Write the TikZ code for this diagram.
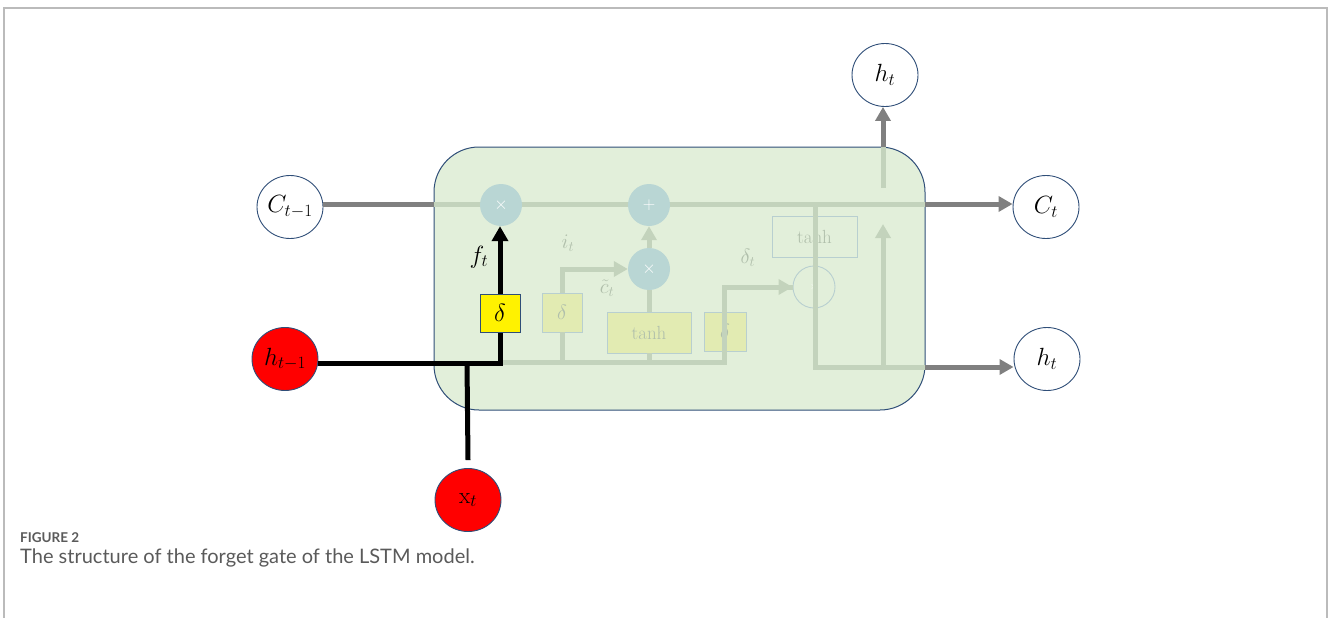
\documentclass[tikz,border=0pt]{standalone}
\usepackage{amsmath,amssymb}
\usepackage{fontspec}
\usetikzlibrary{arrows.meta,shapes.geometric}
\newfontfamily\capfont{Lato}
\definecolor{framegrey}{HTML}{BBBBBB}
\definecolor{boxgreen}{HTML}{E2EFDA}
\definecolor{bordblue}{HTML}{2F4E78}
\definecolor{darkline}{HTML}{808080}
\definecolor{faintline}{HTML}{C3D3BC}
\definecolor{opteal}{HTML}{B9D6D4}
\definecolor{fyellow}{HTML}{E2EBB2}
\definecolor{fbord}{HTML}{B8CFD0}
\definecolor{ftext}{HTML}{B0BFAB}
\definecolor{captext}{HTML}{5A5A5A}
\tikzset{
  circ/.style={ellipse, draw=bordblue, line width=0.9pt, fill=white, minimum width=66pt, minimum height=63pt, inner sep=0pt, font=\fontsize{23}{23}\selectfont},
  redc/.style={circ, fill=red},
  opc/.style={circle, fill=opteal, minimum size=42pt, inner sep=0pt, text=white, font=\fontsize{16}{16}\selectfont},
  fbx/.style={rectangle, draw=fbord, fill=fyellow, line width=0.9pt, inner sep=0pt, text=ftext},
  fl/.style={draw=faintline, line width=5pt},
  fla/.style={fl, -{Triangle[length=14pt,width=15pt]}},
  dl/.style={draw=darkline, line width=5pt, -{Triangle[length=14pt,width=15pt]}},
  bl/.style={draw=black, line width=5pt},
  ftxt/.style={text=ftext, font=\fontsize{22}{22}\selectfont},
}
\begin{document}
\begin{tikzpicture}[x=1pt,y=-1pt]
\useasboundingbox (0,0) rectangle (1328,618);
% outer frame
\draw[framegrey, line width=1.2pt] (4,618) -- (4,8) -- (1327,8) -- (1327,618);
% main box
\node[draw=bordblue, fill=boxgreen, line width=1pt, rounded corners=45pt, minimum width=491pt, minimum height=263pt, inner sep=0pt] (cell) at (679.5,278.5) {};
% outer circles
\node[circ] (cprev) at (290,207) {$C_{t-1}$};
\node[redc] (hprev) at (285,359) {$h_{t-1}$};
\node[redc] (xt) at (468,500) {$\mathrm{x}_t$};
\node[circ] (htop) at (885,75) {$h_t$};
\node[circ] (ct) at (1046,207) {$C_t$};
\node[circ] (hright) at (1047,359) {$h_t$};
% coordinates on the box
\coordinate (cin) at (434,204);
\coordinate (cout) at (925,204);
\coordinate (hout) at (925,367);
\coordinate (htopout) at (883,147);
% faint interior
\draw[fl] (cin) -- (cout);
\node[opc] (m1) at (501,205) {$\times$};
\node[opc] (p1) at (649,205) {$+$};
\node[opc] (m2) at (649,269) {$\times$};
\node[circle, draw=fbord, line width=0.9pt, minimum size=42pt, inner sep=0pt, text=white] (m3) at (814,287) {$\times$};
\node[fbx, minimum width=40pt, minimum height=39pt, font=\fontsize{21}{21}\selectfont] (d2) at (562,312.5) {$\delta$};
\node[fbx, minimum width=84pt, minimum height=41pt, font=\fontsize{19}{19}\selectfont] (th1) at (649,332.5) {tanh};
\node[fbx, minimum width=42pt, minimum height=39pt, font=\fontsize{21}{21}\selectfont] (d3) at (725,331.5) {$\delta$};
\node[rectangle, draw=fbord, line width=0.9pt, minimum width=85pt, minimum height=41pt, inner sep=0pt, text=ftext, font=\fontsize{19}{19}\selectfont] (th2) at (814.5,236.5) {tanh};
\coordinate (jb) at (500,362);
\coordinate (jd3) at (724,362);
\draw[fl] (jb) -- (jd3) -- (724,287) -- (m3.west);
\draw[fla] (724,287) -- (m3.west);
\draw[fl] (d2.south) -- (d2.south |- jb);
\draw[fla] (d2.north) |- (m2.west);
\draw[fl] (th1.south) -- (th1.south |- jb);
\draw[fl] (th1.north) -- (m2.south);
\draw[fla] (m2.north) -- (p1.south);
\draw[fl] (815,204) -- (815,367) -- (hout);
\draw[fla] (883,367) -- (883,224);
\draw[fl] (htopout) -- (883,188);
\node[ftxt] (lit) at (568,243) {$i_t$};
\node[ftxt] (lct) at (607,288) {$\tilde{c}_t$};
\node[ftxt] (ldt) at (748,258) {$\delta_t$};
% dark outside connectors
\draw[draw=darkline, line width=5pt] (cprev.east |- cin) -- (cin);
\draw[dl] (cout) -- (cout -| ct.west);
\draw[dl] (hout) -- (hout -| hright.west);
\draw[dl] (htopout) -- (htopout |- htop.south);
% forget gate
\node[rectangle, draw=bordblue, fill=yellow, line width=1pt, minimum width=40pt, minimum height=38pt, inner sep=0pt, font=\fontsize{23}{23}\selectfont] (d1) at (500,313) {$\delta$};
\coordinate (jx) at (467,363);
\draw[bl] (hprev.east |- 0,363) -- (500,363) -- (d1.south);
\draw[bl] (xt.north) ++(0,-8) -- (jx);
\draw[bl, -{Triangle[length=15pt,width=16pt]}] (d1.north) -- (d1.north |- m1.south);
\node[font=\fontsize{24}{24}\selectfont] (lft) at (479,257) {$f_t$};
% caption
\node[anchor=west, text=captext, font=\capfont\bfseries\fontsize{13.5}{13.5}\selectfont, inner sep=0pt] (fig) at (20,538) {FIGURE 2};
\node[anchor=west, text=captext, font=\capfont\fontsize{20}{20}\selectfont, inner sep=0pt] (cap) at (20,558) {The structure of the forget gate of the LSTM model.};
\end{tikzpicture}
\end{document}
